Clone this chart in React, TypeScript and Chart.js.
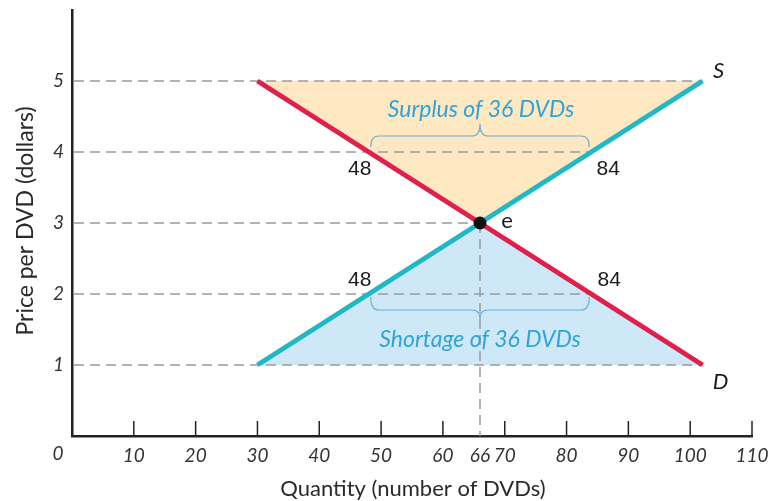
import React, { useEffect, useRef } from "react";
import { Chart, registerables } from "chart.js";

Chart.register(...registerables);

// ---- data ----
const supplyQty = [30, 102];
const supplyPrice = [1, 5];
const demandQty = [30, 102];
const demandPrice = [5, 1];
const eqQty = 66;
const eqPrice = 3;
const surplusPrice = 4;
const shortagePrice = 2;
const qtyAtSurplus = [48, 84]; // quantity demanded, supplied at $4
const qtyAtShortage = [48, 84]; // quantity supplied, demanded at $2
const xTickValues = [0, 10, 20, 30, 40, 50, 60, 66, 70, 80, 90, 100, 110];
const yTickValues = [1, 2, 3, 4, 5];
// guide lines: [price, quantity reached]
const guidePrices = [5, 4, 3, 2, 1];
const guideQtys = [102, 84, 66, 84, 102];

const TICK_FONT = "italic 19px Lato";
const SUPPLY_COLOR = "#20b7c6";
const DEMAND_COLOR = "#e01f4b";
const NOTE_COLOR = "#2fa3da";

function drawBrace(ctx: CanvasRenderingContext2D, x1: number, x2: number, yEnd: number, yMid: number, yTip: number) {
  const xm = (x1 + x2) / 2;
  const r = 8;
  ctx.beginPath();
  ctx.moveTo(x1, yEnd);
  ctx.quadraticCurveTo(x1, yMid, x1 + r, yMid);
  ctx.lineTo(xm - r, yMid);
  ctx.quadraticCurveTo(xm, yMid, xm, yTip);
  ctx.quadraticCurveTo(xm, yMid, xm + r, yMid);
  ctx.lineTo(x2 - r, yMid);
  ctx.quadraticCurveTo(x2, yMid, x2, yEnd);
  ctx.stroke();
}

const decor = {
  id: "decor",
  beforeDatasetsDraw(chart: any) {
    const { ctx, scales } = chart;
    const x = scales.x;
    const y = scales.y;
    ctx.save();
    // surplus triangle
    ctx.fillStyle = "#fde8c2";
    ctx.beginPath();
    ctx.moveTo(x.getPixelForValue(demandQty[0]), y.getPixelForValue(demandPrice[0]));
    ctx.lineTo(x.getPixelForValue(supplyQty[1]), y.getPixelForValue(supplyPrice[1]));
    ctx.lineTo(x.getPixelForValue(eqQty), y.getPixelForValue(eqPrice));
    ctx.closePath();
    ctx.fill();
    // shortage triangle
    ctx.fillStyle = "#cfe8f7";
    ctx.beginPath();
    ctx.moveTo(x.getPixelForValue(supplyQty[0]), y.getPixelForValue(supplyPrice[0]));
    ctx.lineTo(x.getPixelForValue(demandQty[1]), y.getPixelForValue(demandPrice[1]));
    ctx.lineTo(x.getPixelForValue(eqQty), y.getPixelForValue(eqPrice));
    ctx.closePath();
    ctx.fill();

    // dashed guides
    ctx.strokeStyle = "#9a9a9a";
    ctx.lineWidth = 1.5;
    ctx.setLineDash([10, 6]);
    guidePrices.forEach((p, i) => {
      const py = y.getPixelForValue(p);
      ctx.beginPath();
      ctx.moveTo(x.getPixelForValue(0) + 2, py);
      ctx.lineTo(x.getPixelForValue(guideQtys[i]), py);
      ctx.stroke();
    });
    const vx = x.getPixelForValue(eqQty);
    ctx.beginPath();
    ctx.moveTo(vx, y.getPixelForValue(eqPrice));
    ctx.lineTo(vx, y.getPixelForValue(0));
    ctx.stroke();
    ctx.setLineDash([]);

    // x tick marks (inward)
    ctx.strokeStyle = "#222";
    ctx.lineWidth = 1.5;
    const by = y.getPixelForValue(0);
    xTickValues.forEach((v) => {
      if (v === 0 || v === eqQty) return;
      const px = x.getPixelForValue(v);
      ctx.beginPath();
      ctx.moveTo(px, by);
      ctx.lineTo(px, by - 15);
      ctx.stroke();
    });

    // braces
    ctx.strokeStyle = "#6ab0d4";
    ctx.lineWidth = 1.2;
    const sy = y.getPixelForValue(surplusPrice);
    drawBrace(ctx, x.getPixelForValue(qtyAtSurplus[0]) + 2, x.getPixelForValue(qtyAtSurplus[1]) - 2, sy - 5, sy - 16, sy - 28);
    const hy = y.getPixelForValue(shortagePrice);
    drawBrace(ctx, x.getPixelForValue(qtyAtShortage[0]) + 2, x.getPixelForValue(qtyAtShortage[1]) - 2, hy + 3, hy + 16, hy + 25);
    ctx.restore();
  },
  afterDatasetsDraw(chart: any) {
    const { ctx, scales, chartArea } = chart;
    const x = scales.x;
    const y = scales.y;
    ctx.save();
    ctx.textAlign = "center";
    ctx.textBaseline = "middle";

    // origin label
    ctx.fillStyle = "#333";
    ctx.font = TICK_FONT;
    ctx.fillText("0", x.getPixelForValue(0) - 14, y.getPixelForValue(0) + 18);

    // quantity labels
    ctx.fillStyle = "#1a1a1a";
    ctx.font = "21px 'Liberation Sans'";
    const sy = y.getPixelForValue(surplusPrice);
    ctx.fillText(String(qtyAtSurplus[0]), x.getPixelForValue(qtyAtSurplus[0]) - 9, sy + 17);
    ctx.fillText(String(qtyAtSurplus[1]), x.getPixelForValue(qtyAtSurplus[1]) + 17, sy + 17);
    const hy = y.getPixelForValue(shortagePrice);
    ctx.fillText(String(qtyAtShortage[0]), x.getPixelForValue(qtyAtShortage[0]) - 9, hy - 14);
    ctx.fillText(String(qtyAtShortage[1]), x.getPixelForValue(qtyAtShortage[1]) + 18, hy - 14);

    // S, D, e
    ctx.font = "italic 22px Lato";
    ctx.fillText("S", x.getPixelForValue(supplyQty[1]) + 16, y.getPixelForValue(supplyPrice[1]) - 10);
    ctx.fillText("D", x.getPixelForValue(demandQty[1]) + 18, y.getPixelForValue(demandPrice[1]) + 17);
    ctx.font = "22px Lato";
    ctx.fillText("e", x.getPixelForValue(eqQty) + 27, y.getPixelForValue(eqPrice) - 2);

    // notes
    ctx.fillStyle = NOTE_COLOR;
    ctx.font = "italic 23px Lato";
    ctx.fillText("Surplus of 36 DVDs", x.getPixelForValue(eqQty) + 1, sy - 42);
    ctx.fillText("Shortage of 36 DVDs", x.getPixelForValue(eqQty), hy + 46);

    // axis titles
    ctx.fillStyle = "#2a2a2a";
    ctx.font = "22px Lato";
    ctx.fillText("Quantity (number of DVDs)", 413, chartArea.bottom + 53);
    ctx.translate(26, 221);
    ctx.rotate(-Math.PI / 2);
    ctx.font = "23px Lato";
    ctx.fillText("Price per DVD (dollars)", 0, 0);
    ctx.restore();
  },
};

export default function App() {
  const ref = useRef<HTMLCanvasElement>(null);
  useEffect(() => {
    if (!ref.current) return;
    const chart = new Chart(ref.current, {
      type: "scatter",
      data: {
        datasets: [
          {
            label: "S",
            data: supplyQty.map((q, i) => ({ x: q, y: supplyPrice[i] })),
            showLine: true,
            borderColor: SUPPLY_COLOR,
            backgroundColor: SUPPLY_COLOR,
            borderWidth: 5,
            pointRadius: 0,
            borderCapStyle: "butt",
            order: 2,
          },
          {
            label: "D",
            data: demandQty.map((q, i) => ({ x: q, y: demandPrice[i] })),
            showLine: true,
            borderColor: DEMAND_COLOR,
            backgroundColor: DEMAND_COLOR,
            borderWidth: 5,
            pointRadius: 0,
            borderCapStyle: "butt",
            order: 1,
          },
          {
            label: "e",
            data: [{ x: eqQty, y: eqPrice }],
            pointRadius: 6.5,
            pointBackgroundColor: "#111",
            pointBorderWidth: 0,
            showLine: false,
            order: 0,
          },
        ],
      },
      options: {
        responsive: false,
        animation: false,
        layout: { padding: { top: 10, right: 22, left: 0, bottom: 0 } },
        plugins: { legend: { display: false }, tooltip: { enabled: false } },
        scales: {
          x: {
            type: "linear",
            min: 0,
            max: 110,
            afterBuildTicks: (s: any) => {
              s.ticks = xTickValues.map((v) => ({ value: v }));
            },
            afterFit: (s: any) => {
              s.height = 65;
              s.paddingLeft = 0;
              s.paddingRight = 0;
            },
            grid: { display: false, drawTicks: false },
            border: { display: true, color: "#222", width: 2.5 },
            ticks: {
              autoSkip: false,
              maxRotation: 0,
              padding: 8,
              color: "#333",
              font: { family: "Lato", size: 19, style: "italic" },
              callback: (v: any) => (v === 0 ? "" : String(v)),
            },
          },
          y: {
            type: "linear",
            min: 0,
            max: 6,
            afterBuildTicks: (s: any) => {
              s.ticks = yTickValues.map((v) => ({ value: v }));
            },
            afterFit: (s: any) => {
              s.width = 72;
              s.paddingTop = 0;
              s.paddingBottom = 0;
            },
            grid: { display: false, drawTicks: false },
            border: { display: true, color: "#222", width: 2.5 },
            ticks: {
              padding: 8,
              color: "#333",
              font: { family: "Lato", size: 19, style: "italic" },
              callback: (v: any) => String(v),
            },
          },
        },
      },
      plugins: [decor],
    } as any);
    return () => chart.destroy();
  }, []);
  return (
    <div style={{ position: "absolute", left: 0, top: 0, width: 774, height: 501, background: "#fff" }}>
      <canvas ref={ref} width={774} height={501} style={{ display: "block" }} />
    </div>
  );
}
